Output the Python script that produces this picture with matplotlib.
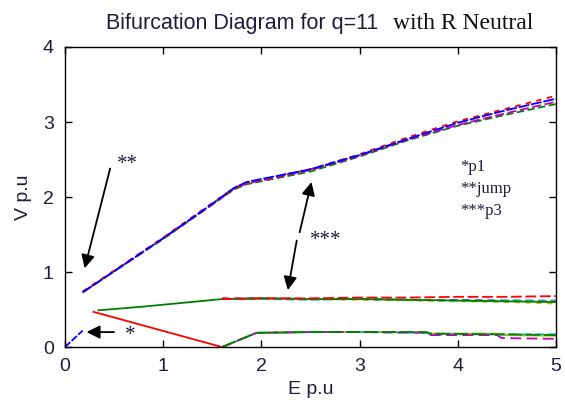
import matplotlib.pyplot as plt
import numpy as np

# upper branch (E, V) for the overlapping runs
E_up = [0.18, 0.5, 1.0, 1.5, 1.72, 1.85, 2.0, 2.5, 3.0, 3.5, 4.0, 4.5, 5.0]
V_up_blue = [0.73, 1.01, 1.45, 1.91, 2.12, 2.20, 2.24, 2.37, 2.56, 2.78, 2.99, 3.16, 3.31]
V_up_red = [0.74, 1.02, 1.46, 1.92, 2.12, 2.19, 2.23, 2.37, 2.57, 2.80, 3.01, 3.18, 3.35]
V_up_mag = [0.73, 1.01, 1.45, 1.90, 2.11, 2.18, 2.22, 2.36, 2.55, 2.77, 2.96, 3.12, 3.27]
V_up_green = [0.73, 1.01, 1.44, 1.90, 2.10, 2.17, 2.21, 2.34, 2.54, 2.76, 2.95, 3.10, 3.24]

# middle branch
E_mid = [0.34, 0.8, 1.2, 1.6, 2.0, 2.5, 3.0, 3.5, 4.0, 4.5, 5.0]
V_mid_green = [0.49, 0.54, 0.59, 0.64, 0.65, 0.64, 0.64, 0.63, 0.62, 0.61, 0.60]
E_mid2 = [1.6, 2.0, 2.5, 3.0, 3.5, 4.0, 4.5, 5.0]
V_mid_red = [0.64, 0.65, 0.65, 0.66, 0.66, 0.67, 0.67, 0.68]
V_mid_cyan = [0.64, 0.64, 0.63, 0.64, 0.63, 0.62, 0.62, 0.61]
V_mid_yellow = [0.65, 0.64, 0.64, 0.63, 0.62, 0.61, 0.60, 0.58]
V_mid_mag = [0.65, 0.65, 0.64, 0.64, 0.63, 0.63, 0.62, 0.62]

# lower branch
E_p1 = [0.0, 0.18]
V_p1 = [0.0, 0.22]
E_red_down = [0.29, 1.6]
V_red_down = [0.47, 0.0]
E_low = [1.6, 1.95, 2.5, 3.0, 3.68, 3.72, 4.4, 4.45, 5.0]
V_low_green = [0.0, 0.19, 0.20, 0.20, 0.20, 0.18, 0.17, 0.17, 0.16]
V_low_cyan = [0.0, 0.19, 0.20, 0.20, 0.19, 0.17, 0.17, 0.17, 0.17]
V_low_yellow = [0.0, 0.19, 0.20, 0.20, 0.20, 0.18, 0.18, 0.16, 0.15]
V_low_mag = [0.0, 0.19, 0.20, 0.20, 0.19, 0.16, 0.16, 0.12, 0.11]

txt = '#251a38'
plt.rcParams['font.family'] = ['Liberation Sans', 'DejaVu Sans']

fig = plt.figure(figsize=(5.65, 4.05), dpi=100)
ax = fig.add_axes([0.115, 0.143, 0.869, 0.741])

g = (0, 0.5, 0)
ax.plot(E_low, V_low_yellow, color='y', lw=1.3)
ax.plot(E_low, V_low_cyan, color='c', lw=1.3, dashes=(5, 2))
ax.plot(E_low, V_low_mag, color='m', lw=1.3, dashes=(6, 3))
ax.plot(E_low, V_low_green, color=g, lw=1.3, dashes=(8, 2))
ax.plot(E_red_down, V_red_down, color='r', lw=1.3)
ax.plot(E_p1, V_p1, color='b', lw=1.3, dashes=(4, 1))

ax.plot(E_mid2, V_mid_yellow, color='y', lw=1.3, dashes=(3, 3))
ax.plot(E_mid2, V_mid_mag, color='m', lw=1.3, dashes=(4, 3))
ax.plot(E_mid2, V_mid_cyan, color='c', lw=1.3, dashes=(5, 2))
ax.plot(E_mid, V_mid_green, color=g, lw=1.3)
ax.plot(E_mid2, V_mid_red, color='r', lw=1.3, dashes=(6, 2))

ax.plot(E_up, V_up_green, color=g, lw=1.3, dashes=(4, 2))
ax.plot(E_up, V_up_mag, color='m', lw=1.3, dashes=(5, 2))
ax.plot(E_up, V_up_red, color='r', lw=1.3, dashes=(3, 3))
ax.plot(E_up, V_up_blue, color='b', lw=1.3, dashes=(6, 1))

ax.set_xlim(0, 5)
ax.set_ylim(0, 4)
ax.set_xticks([0, 1, 2, 3, 4, 5])
ax.set_yticks([0, 1, 2, 3, 4])
ax.tick_params(direction='in', top=True, right=True, labelsize=14,
               labelcolor=txt, length=5, width=1)
ax.tick_params(axis='x', pad=8)
ax.tick_params(axis='y', pad=8)
for s in ax.spines.values():
    s.set_linewidth(1.0)
ax.set_xlabel('E p.u', fontsize=14, color=txt, labelpad=4)
ax.set_ylabel('V p.u', fontsize=14, color=txt, labelpad=8)

arr = dict(arrowstyle='-|>', color='k', lw=1.3, mutation_scale=20,
           shrinkA=0, shrinkB=0)
ax.annotate('', xy=(0.2, 1.05), xytext=(0.46, 2.38), arrowprops=arr)
ax.annotate('', xy=(0.22, 0.2), xytext=(0.5, 0.2), arrowprops=arr)
ax.annotate('', xy=(2.51, 2.2), xytext=(2.39, 1.53), arrowprops=arr)
ax.annotate('', xy=(2.27, 0.76), xytext=(2.36, 1.42), arrowprops=arr)

serif = ['Liberation Serif', 'DejaVu Serif']
ax.text(0.53, 2.44, '**', family=serif, fontsize=15, color=txt, ha='left', va='center')
ax.text(0.61, 0.15, '*', family=serif, fontsize=15, color=txt, ha='left', va='center')
ax.text(2.5, 1.42, '***', family=serif, fontsize=15, color=txt, ha='left', va='center')
ax.text(4.02, 2.4, '*p1', family=serif, fontsize=12, color=txt, ha='left', va='center')
ax.text(4.02, 2.11, '**jump', family=serif, fontsize=12, color=txt, ha='left', va='center')
ax.text(4.02, 1.82, '***p3', family=serif, fontsize=12, color=txt, ha='left', va='center')

fig.text(0.669, 0.928, 'Bifurcation Diagram for q=11', fontsize=15.5, color=txt,
         ha='right', va='baseline')
fig.text(0.696, 0.928, 'with R Neutral', family=serif, fontsize=17, color='#101010',
         ha='left', va='baseline')

fig.savefig('out.png', dpi=100)
